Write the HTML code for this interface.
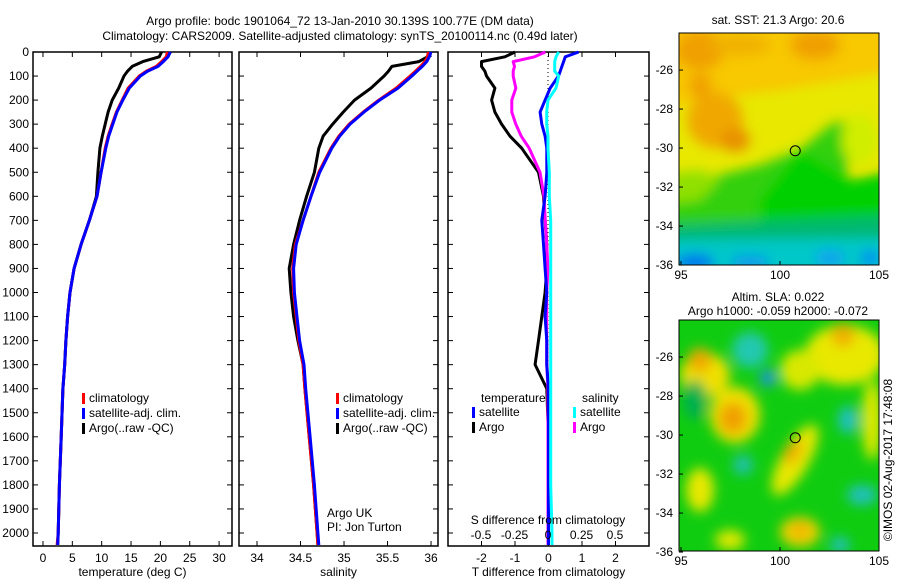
<!DOCTYPE html>
<html><head><meta charset="utf-8"><style>
body{margin:0;background:#fff;width:900px;height:580px;overflow:hidden}
svg{font-family:"Liberation Sans",sans-serif;font-size:12px}
</style></head><body>
<svg id="c" width="900" height="580" xmlns="http://www.w3.org/2000/svg">
<defs>
<filter id="bl" x="-20%" y="-20%" width="140%" height="140%"><feGaussianBlur stdDeviation="6"/></filter>
<clipPath id="m1c"><rect x="679" y="33" width="200" height="232"/></clipPath>
<clipPath id="m2c"><rect x="679" y="320" width="200" height="231"/></clipPath>
</defs>
<text x="340" y="25" text-anchor="middle">Argo profile: bodc 1901064_72 13-Jan-2010 30.139S 100.77E (DM data)</text>
<text x="340" y="40" text-anchor="middle">Climatology: CARS2009. Satellite-adjusted climatology: synTS_20100114.nc (0.49d later)</text>
<g id="g"></g>
<text x="778" y="24" text-anchor="middle">sat. SST: 21.3 Argo: 20.6</text>
<text x="778" y="301" text-anchor="middle">Altim. SLA: 0.022</text>
<text x="778" y="315" text-anchor="middle">Argo h1000: -0.059 h2000: -0.072</text>
<text transform="translate(892,460) rotate(-90)" text-anchor="middle">©IMOS 02-Aug-2017 17:48:08</text>
</svg>
<script>
const depths=[0,20,40,60,80,100,150,200,250,300,350,400,500,600,700,800,900,1000,1100,1200,1300,1400,1600,1800,2000,2050];
const tClim=[21.2,21.0,20.2,19.3,17.6,16.4,14.5,13.5,12.5,11.8,11.1,10.6,9.9,9.2,7.9,6.5,5.3,4.6,4.2,3.9,3.7,3.4,3.1,2.8,2.6,2.4];
const tSat=[21.7,21.3,20.5,19.6,17.8,16.6,14.7,13.6,12.6,11.9,11.2,10.7,9.9,9.2,7.9,6.5,5.3,4.6,4.2,3.9,3.7,3.4,3.1,2.8,2.6,2.5];
const tArgo=[20.2,19.8,17.0,15.2,14.4,13.8,12.9,11.8,11.1,10.6,10.1,9.7,9.35,9.1,7.9,6.5,5.3,4.6,4.2,3.9,3.7,3.4,3.1,2.8,2.6,2.5];
const sClim=[35.97,35.96,35.93,35.88,35.82,35.76,35.6,35.4,35.22,35.06,34.94,34.85,34.71,34.62,34.53,34.44,34.41,34.42,34.45,34.48,34.53,34.55,34.6,34.65,34.69,34.7];
const sSat=[36.0,35.98,35.95,35.9,35.84,35.78,35.62,35.41,35.23,35.07,34.95,34.86,34.72,34.62,34.53,34.45,34.42,34.43,34.46,34.49,34.54,34.56,34.61,34.66,34.7,34.71];
const sArgo=[35.97,35.96,35.86,35.55,35.51,35.46,35.31,35.12,34.99,34.87,34.76,34.71,34.66,34.57,34.49,34.42,34.37,34.39,34.42,34.47,34.53,34.55,34.6,34.65,34.69,34.7];
const dTSat=[0.9,0.5,0.45,0.4,0.35,0.3,0.05,-0.1,-0.25,-0.2,-0.1,-0.05,-0.05,-0.1,-0.2,-0.15,-0.1,-0.05,-0.1,-0.05,-0.05,0,0,0,0,0];
const dTArgo=[-1.0,-1.3,-2.0,-2.0,-1.9,-1.85,-1.6,-1.7,-1.6,-1.4,-1.15,-0.8,-0.3,-0.15,-0.1,-0.05,-0.05,-0.1,-0.2,-0.3,-0.4,-0.05,0,0,0,0];
const dSSat=[0.08,0.06,0.05,0.05,0.05,0.08,0.06,0.0,-0.01,-0.01,0.0,0.0,0.01,0.01,0.02,0.02,0.02,0.02,0.02,0.02,0.02,0.02,0.02,0.02,0.03,0.03];
const dSArgo=[-0.02,-0.1,-0.26,-0.25,-0.26,-0.26,-0.24,-0.27,-0.27,-0.24,-0.2,-0.14,-0.06,-0.03,-0.02,-0.01,0,-0.01,-0.01,-0.01,-0.01,0,0,0,0,0];
const depthTicks=[0,100,200,300,400,500,600,700,800,900,1000,1100,1200,1300,1400,1500,1600,1700,1800,1900,2000];
const tTicks=[0,5,10,15,20,25,30];
const sTicks=[34,34.5,35,35.5,36];
const tdTicks=[-2,-1,0,1,2];
const sdTicks=[-0.5,-0.25,0,0.25,0.5];
const sdLabels=["-0.5","-0.25","0","0.25","0.5"];
const mapXTicks=[95,100,105];
const mapYTicks=[-26,-28,-30,-32,-34,-36];

const NS="http://www.w3.org/2000/svg",G=document.getElementById('g');
function el(t,a,p){const e=document.createElementNS(NS,t);for(const k in a)e.setAttribute(k,a[k]);(p||G).appendChild(e);return e;}
const yD=d=>52+d*0.2405;
function panel(x0,x1,name,xmin,xmax,ticks,labels,title,showY){
  const xs=v=>x0+(v-xmin)/(xmax-xmin)*(x1-x0);
  const r=el('rect',{x:x0,y:52,width:x1-x0,height:494,fill:'none',stroke:'#000','stroke-width':1.5});
  
  ticks.forEach((v,i)=>{const x=xs(v);
    el('line',{x1:x,x2:x,y1:546,y2:541,stroke:'#000'});el('line',{x1:x,x2:x,y1:52,y2:57,stroke:'#000'});
    if(labels){const t=el('text',{x:x,y:562,'text-anchor':'middle'});t.textContent=labels[i];
    }});
  depthTicks.forEach(d=>{const y=yD(d);el('line',{x1:x0,x2:x0+5,y1:y,y2:y,stroke:'#000'});el('line',{x1:x1,x2:x1-5,y1:y,y2:y,stroke:'#000'});
    if(showY){const t=el('text',{x:x0-4,y:y+4,'text-anchor':'end'});t.textContent=d;
    }});
  if(title){const t=el('text',{x:(x0+x1)/2,y:576,'text-anchor':'middle'});t.textContent=title;
    }
  return xs;
}
function line(xs,vals,col,name,w){const d=vals.map((v,i)=>(i?'L':'M')+xs(v).toFixed(1)+','+yD(depths[i]).toFixed(1)).join('');
  const p=el('path',{d:d,fill:'none',stroke:col,'stroke-width':w||3,'stroke-linejoin':'round'});
  }
function legend(x,y,items){items.forEach((it,i)=>{el('rect',{x:x,y:y+i*15-9,width:3,height:11,fill:it[1]});
  const t=el('text',{x:x+7,y:y+i*15});t.textContent=it[0];});}

const xT=panel(33,232,'temperature-panel',-1.7,32.2,tTicks,tTicks,'temperature (deg C)',true);
line(xT,tArgo,'#000','temp-argo-line');line(xT,tClim,'#f00','temp-climatology-line');line(xT,tSat,'#00f','temp-satellite-line');
legend(82,402,[['climatology','#f00'],['satellite-adj. clim.','#00f'],['Argo(..raw -QC)','#000']]);

const xS=panel(239,438,'salinity-panel',33.793,36.08,sTicks,sTicks,'salinity',false);
line(xS,sArgo,'#000','sal-argo-line');line(xS,sClim,'#f00','sal-climatology-line');line(xS,sSat,'#00f','sal-satellite-line');
legend(336,402,[['climatology','#f00'],['satellite-adj. clim.','#00f'],['Argo(..raw -QC)','#000']]);
[['Argo UK',517],['PI: Jon Turton',531]].forEach(a=>{const t=el('text',{x:327,y:a[1]});t.textContent=a[0];});

const xD=panel(448,649,'difference-panel',-3,3,tdTicks,tdTicks,'T difference from climatology',false);
const xSD=v=>548+v*134;
el('line',{x1:548,x2:548,y1:52,y2:546,stroke:'#000','stroke-dasharray':'1,3'});
line(xD,dTArgo,'#000','tdiff-argo-line');line(v=>xSD(v),dSArgo,'#f0f','sdiff-argo-line');
line(xD,dTSat,'#00f','tdiff-satellite-line');line(v=>xSD(v),dSSat,'#0ff','sdiff-satellite-line');
sdTicks.forEach((v,i)=>{const t=el('text',{x:xSD(v),y:539,'text-anchor':'middle'});t.textContent=sdLabels[i];});
{const t=el('text',{x:548,y:524,'text-anchor':'middle'});t.textContent='S difference from climatology';}
{let t=el('text',{x:481,y:402});t.textContent='temperature';
 t=el('text',{x:582,y:402});t.textContent='salinity';}
legend(472,416,[['satellite','#00f'],['Argo','#000']]);
legend(573,416,[['satellite','#0ff'],['Argo','#f0f']]);

function map(y0,h,clip,base,shapes,name,yTop){
  const g=el('g',{'clip-path':'url(#'+clip+')'});
  el('rect',{x:679,y:y0,width:200,height:h,fill:base},g);
  const bg=el('g',{filter:'url(#bl)'},g);
  shapes.forEach(b=>{ if(b[0]==='p') el('polygon',{points:b[1],fill:b[2]},bg);
    else el('ellipse',{cx:b[0],cy:b[1],rx:b[2],ry:b[3],fill:b[4],transform:'rotate('+(b[5]||0)+' '+b[0]+' '+b[1]+')'},bg);});
  const lx=v=>681+(v-95)*19.8, ly=v=>y0+(yTop-v)*19.5;
  el('circle',{cx:lx(100.77),cy:ly(-30.139),r:5,fill:'none',stroke:'#000'});
  el('rect',{x:679,y:y0,width:200,height:h,fill:'none',stroke:'#000'});
  mapXTicks.forEach(v=>{const x=lx(v);el('line',{x1:x,x2:x,y1:y0+h,y2:y0+h-4,stroke:'#000'});
    const t=el('text',{x:x,y:y0+h+14,'text-anchor':'middle'});t.textContent=v;});
  mapYTicks.forEach(v=>{const y=ly(v);el('line',{x1:679,x2:683,y1:y,y2:y,stroke:'#000'});
    const t=el('text',{x:673,y:y+4,'text-anchor':'end'});t.textContent=v;});
}
map(33,232,'m1c','#e8e800',[
 ['p','660,20 900,20 900,70 780,90 700,100 660,110','#f8c800'],
 [700,50,25,20,'#f0a000'],[815,45,25,15,'#f0a000'],[740,45,30,10,'#f0b000'],
 [715,120,28,28,'#f0a800'],[735,140,15,12,'#e89000'],[700,85,12,12,'#f0a000'],
 ['p','660,180 720,175 760,165 800,150 830,125 845,120 850,150 845,185 900,170 900,300 660,300','#30d010'],
 ['p','660,175 700,170 720,180 700,200 660,205','#90e000'],
 ['p','760,200 800,150 850,180 900,170 900,240 760,240','#00d000'],
 [860,140,18,25,'#d0ee00'],
 ['p','660,225 900,215 900,300 660,300','#00b870'],
 ['p','660,240 900,238 900,300 660,300','#00c8c8'],
 [695,262,20,8,'#0070f0'],[750,262,20,6,'#1090f0'],[830,258,15,8,'#10a0f0'],[870,258,10,8,'#0090f0']
],'sst-map',-24.1);
map(320,231,'m2c','#10cc10',[
 [705,375,25,22,'#f0e000'],[735,415,25,28,'#f0e000'],[700,360,12,12,'#f0a800'],[733,418,14,16,'#f0a000'],
 [845,355,40,30,'#e8e800'],[843,335,12,12,'#f0b000'],[800,370,20,20,'#d8e800'],
 [795,460,14,40,'#e8e800',30],[793,452,8,14,'#f0b000',30],
 [700,490,14,22,'#e8e800'],[800,532,20,15,'#f0d000'],[800,530,8,8,'#f0b000'],
 [872,420,10,40,'#e0e800'],[730,540,15,10,'#e0e800'],
 [750,350,18,18,'#20c8b0'],[768,378,8,8,'#2090f0'],[848,420,10,14,'#20c0c0'],[743,465,10,10,'#20c0b0'],[862,495,15,10,'#20c0c0'],[840,545,10,8,'#20c0c0'],
 [695,400,12,20,'#00b050']
],'sla-map',-24.1);
</script>
</body></html>
